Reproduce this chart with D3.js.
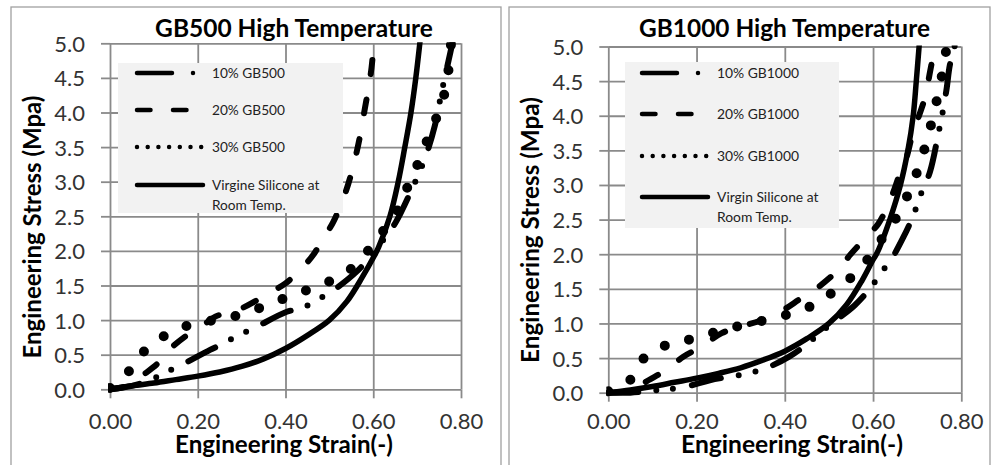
<!DOCTYPE html>
<html><head><meta charset="utf-8">
<script src="https://cdn.jsdelivr.net/npm/d3@7/dist/d3.min.js"></script>
<style>body{margin:0;background:#fff}svg{display:block}</style>
</head><body>
<svg id="chart" width="994" height="465"></svg>
<script>
// ---------- data ----------
const strainTicks = [0, 0.2, 0.4, 0.6, 0.8];
const stressTicks = [0, 0.5, 1.0, 1.5, 2.0, 2.5, 3.0, 3.5, 4.0, 4.5, 5.0];
const titles = ["GB500 High Temperature", "GB1000 High Temperature"];
const xTitle = "Engineering Strain(-)";
const yTitle = "Engineering Stress (Mpa)";
const legend500 = ["10% GB500", "20% GB500", "30% GB500", ["Virgine Silicone at", "Room Temp."]];
const legend1000 = ["10% GB1000", "20% GB1000", "30% GB1000", ["Virgin Silicone at", "Room Temp."]];

// [strain, stress]
const gb500_10 = [[0,0],[0.05,0.05],[0.095,0.14],[0.12,0.23],[0.156,0.33],[0.228,0.57],[0.258,0.66],[0.292,0.78],[0.327,0.88],[0.403,1.12],[0.437,1.17],[0.471,1.29],[0.50,1.39],[0.562,1.70],[0.60,1.97],[0.623,2.16],[0.65,2.4],[0.685,2.85],[0.718,3.34],[0.74,3.8],[0.756,4.3],[0.772,4.76],[0.782,5.05]];
const gb500_20 = [[0,0],[0.04,0.05],[0.076,0.21],[0.11,0.38],[0.14,0.6],[0.175,0.78],[0.213,0.93],[0.24,1.05],[0.296,1.16],[0.33,1.27],[0.368,1.41],[0.40,1.53],[0.437,1.75],[0.463,1.94],[0.486,2.18],[0.509,2.42],[0.537,2.85],[0.555,3.24],[0.568,3.6],[0.581,4.06],[0.589,4.35],[0.596,4.64],[0.602,5.05]];
const gb500_30 = [[0,0.02],[0.046,0.28],[0.081,0.57],[0.129,0.79],[0.182,0.93],[0.239,1.0],[0.293,1.07],[0.347,1.19],[0.40,1.32],[0.452,1.44],[0.50,1.56],[0.551,1.75],[0.589,2.01],[0.608,2.18],[0.646,2.47],[0.665,2.74],[0.685,3.02],[0.707,3.34],[0.729,3.7],[0.748,3.99],[0.766,4.37],[0.773,4.71],[0.778,5.05]];
const gb500_virgin = [[0,0],[0.05,0.05],[0.1,0.09],[0.15,0.14],[0.2,0.19],[0.25,0.25],[0.3,0.33],[0.35,0.44],[0.4,0.59],[0.45,0.78],[0.5,1.0],[0.54,1.27],[0.575,1.62],[0.6,1.9],[0.612,2.05],[0.638,2.5],[0.657,3.0],[0.672,3.5],[0.686,4.0],[0.697,4.5],[0.707,5.05]];

const gb1000_10 = [[0,0],[0.05,0.0],[0.1,0.03],[0.136,0.05],[0.184,0.1],[0.23,0.18],[0.317,0.28],[0.363,0.37],[0.41,0.52],[0.45,0.7],[0.5,0.97],[0.558,1.26],[0.595,1.52],[0.62,1.75],[0.638,1.89],[0.669,2.25],[0.69,2.54],[0.708,2.86],[0.729,3.19],[0.748,3.74],[0.758,4.06],[0.767,4.4],[0.774,4.73],[0.787,5.05]];
const gb1000_20 = [[0,0],[0.05,0.03],[0.091,0.18],[0.132,0.33],[0.17,0.52],[0.21,0.66],[0.257,0.86],[0.298,0.95],[0.344,1.04],[0.39,1.17],[0.436,1.36],[0.477,1.53],[0.525,1.8],[0.548,1.99],[0.582,2.23],[0.612,2.44],[0.64,2.8],[0.66,3.15],[0.676,3.4],[0.688,3.7],[0.703,3.98],[0.718,4.27],[0.729,4.63],[0.737,4.9],[0.741,5.05]];
const gb1000_30 = [[0,0.02],[0.049,0.18],[0.081,0.5],[0.132,0.69],[0.185,0.77],[0.24,0.87],[0.294,0.96],[0.35,1.04],[0.406,1.13],[0.456,1.24],[0.504,1.43],[0.551,1.67],[0.593,1.97],[0.623,2.25],[0.652,2.52],[0.678,2.85],[0.70,3.19],[0.718,3.55],[0.733,3.91],[0.746,4.27],[0.759,4.68],[0.768,5.05]];
const gb1000_virgin = [[0,0],[0.05,0.04],[0.1,0.09],[0.15,0.15],[0.2,0.21],[0.25,0.28],[0.3,0.36],[0.35,0.47],[0.4,0.6],[0.45,0.78],[0.5,1.0],[0.54,1.27],[0.575,1.62],[0.6,1.92],[0.61,2.03],[0.638,2.5],[0.662,3.0],[0.679,3.5],[0.691,4.0],[0.698,4.5],[0.705,5.05]];

// ---------- layout / style ----------
const FONT = "Lato, 'Open Sans', sans-serif";
const svg = d3.select("#chart");
const GRID = "#8a8a8a";

function fit(t, w) {
  const l = t.node().getComputedTextLength();
  const fs = parseFloat(t.attr("font-size"));
  t.attr("font-size", fs * w / l);
  return fs * w / l;
}

const seriesStyle = [
  {w: 6, dash: "30,18,0,17,0,19"},
  {w: 6, dash: "14,26"},
  {w: 10, dash: "0,25"},
  {w: 5.5, dash: null}
];
const legendStyle = [
  {w: 4.5, dash: "35,21,0,100", len: 66},
  {w: 4.5, dash: "13.5,22.5", len: 50},
  {w: 4.5, dash: "0,10.7", len: 64.3},
  {w: 4.5, dash: null, len: 66}
];

const panels = [
  {box: [11, 7, 501, 470], px: [110, 461], py: [389.3, 43.3], title: titles[0], titleX: 294, xTitleX: 284, yTitleX: 41, yTitleY: 227,
   series: [gb500_10, gb500_20, gb500_30, gb500_virgin], legend: legend500, leg: [118, 63, 343, 213], legRows: [73, 110, 147, 185, 205], legX: 135,
   titleW: 278, xTitleW: 222, yTitleW: 263, legW: 73},
  {box: [509, 7, 990, 470], px: [608.3, 961.3], py: [392.7, 46.5], title: titles[1], titleX: 784.5, xTitleX: 792, yTitleX: 539, yTitleY: 230,
   series: [gb1000_10, gb1000_20, gb1000_30, gb1000_virgin], legend: legend1000, leg: [625, 62, 839, 228], legRows: [73, 114, 156, 197, 217], legX: 640,
   titleW: 291, xTitleW: 226, yTitleW: 266, legW: 82}
];

panels.forEach((p, pi) => {
  const g = svg.append("g");
  g.append("rect").attr("x", p.box[0]).attr("y", p.box[1])
    .attr("width", p.box[2] - p.box[0]).attr("height", p.box[3] - p.box[1])
    .attr("fill", "#fff").attr("stroke", "#a0a0a0").attr("stroke-width", 1.3);

  const x = d3.scaleLinear().domain([0, 0.8]).range(p.px);
  const y = d3.scaleLinear().domain([0, 5]).range(p.py);

  // gridlines + ticks via axes
  const yAxis = d3.axisLeft(y).tickValues(stressTicks).tickSize(-(p.px[1] - p.px[0])).tickFormat(d3.format(".1f"));
  const xAxis = d3.axisBottom(x).tickValues(strainTicks).tickSize(-(p.py[0] - p.py[1])).tickFormat(d3.format(".2f"));
  const gy = g.append("g").attr("transform", `translate(${p.px[0]},0)`).call(yAxis);
  const gx = g.append("g").attr("transform", `translate(0,${p.py[0]})`).call(xAxis);
  [gx, gy].forEach(a => {
    a.select(".domain").remove();
    a.selectAll("line").attr("stroke", GRID).attr("stroke-width", 1.8);
    a.selectAll("text").remove();
  });
  // outward tick stubs
  gy.selectAll(".tick").append("line").attr("x1", -9).attr("x2", 0).attr("stroke", GRID).attr("stroke-width", 1.8);
  gx.selectAll(".tick").append("line").attr("y1", 0).attr("y2", 9).attr("stroke", GRID).attr("stroke-width", 1.8);

  // tick labels
  const xl = gx.selectAll(".tick").append("text").attr("y", 429.5 - p.py[0]).attr("text-anchor", "middle")
    .attr("fill", "#333").attr("font-family", FONT).attr("font-size", 22).text(d => d3.format(".2f")(d));
  const fs = fit(d3.select(xl.nodes()[0]), 43.5);
  xl.attr("font-size", fs);
  gy.selectAll(".tick").append("text").attr("x", -25).attr("dy", "0.36em").attr("text-anchor", "end")
    .attr("fill", "#333").attr("font-family", FONT).attr("font-size", fs).text(d => d3.format(".1f")(d));

  // series
  const clipId = "clip" + pi;
  svg.append("clipPath").attr("id", clipId).append("rect")
    .attr("x", p.px[0] - 2).attr("y", p.py[1] - 1).attr("width", p.px[1] - p.px[0] + 12).attr("height", p.py[0] - p.py[1] + 6);
  const line = d3.line().x(d => x(d[0])).y(d => y(d[1])).curve(d3.curveCatmullRom.alpha(0.5));
  const sg = g.append("g").attr("clip-path", `url(#${clipId})`);
  p.series.forEach((s, si) => {
    const st = seriesStyle[si];
    sg.append("path").datum(s).attr("d", line).attr("fill", "none").attr("stroke", "#000")
      .attr("stroke-width", st.w).attr("stroke-linecap", "round").attr("stroke-linejoin", "round")
      .attr("stroke-dasharray", st.dash);
  });

  // legend
  const lg = g.append("g");
  lg.append("rect").attr("x", p.leg[0]).attr("y", p.leg[1]).attr("width", p.leg[2] - p.leg[0]).attr("height", p.leg[3] - p.leg[1]).attr("fill", "#f2f2f2");
  let lfs = 15;
  p.legend.forEach((lab, li) => {
    const ls = legendStyle[li];
    const ry = p.legRows[li];
    lg.append("line").attr("x1", p.legX + 2).attr("x2", p.legX + 2 + ls.len).attr("y1", ry).attr("y2", ry)
      .attr("stroke", "#000").attr("stroke-width", ls.w).attr("stroke-linecap", "round").attr("stroke-dasharray", ls.dash);
    const lines = Array.isArray(lab) ? lab : [lab];
    lines.forEach((tx, k) => {
      const t = lg.append("text").attr("x", p.legX + 77).attr("y", (k === 0 ? ry : p.legRows[4])).attr("dy", "0.35em")
        .attr("fill", "#222").attr("font-family", FONT).attr("font-size", lfs).text(tx);
      if (li === 0) lfs = fit(t, p.legW);
    });
  });

  // titles
  const tt = g.append("text").attr("x", p.titleX).attr("y", 37).attr("text-anchor", "middle").attr("font-weight", "bold")
    .attr("font-family", FONT).attr("font-size", 20).attr("fill", "#000").text(p.title);
  fit(tt, p.titleW);
  const xt = g.append("text").attr("x", p.xTitleX).attr("y", 453).attr("text-anchor", "middle").attr("font-weight", "bold")
    .attr("font-family", FONT).attr("font-size", 20).attr("fill", "#000").text(xTitle);
  fit(xt, p.xTitleW - 4);
  const yt = g.append("text").attr("transform", `translate(${p.yTitleX},${p.yTitleY}) rotate(-90)`).attr("text-anchor", "middle").attr("font-weight", "bold")
    .attr("font-family", FONT).attr("font-size", 20).attr("fill", "#000").text(yTitle);
  fit(yt, p.yTitleW);
});
</script>
</body></html>
